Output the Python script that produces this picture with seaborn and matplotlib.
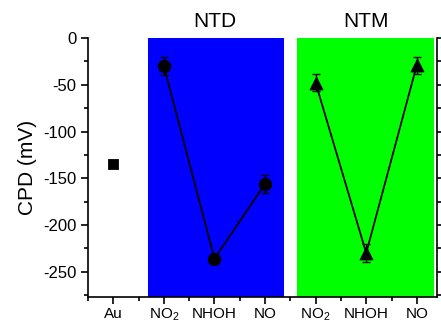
import numpy as np
import pandas as pd
import matplotlib
matplotlib.use("Agg")
import matplotlib.pyplot as plt
from matplotlib.patches import Rectangle
from matplotlib.ticker import MultipleLocator
import seaborn as sns

# ---- data ----
tick_labels = ["Au", "NO$_\\mathregular{2}$", "NHOH", "NO", "NO$_\\mathregular{2}$", "NHOH", "NO"]
au_value = [-135]
ntd_values = [-30, -236, -156]
ntd_errors = [10, 3, 10]
ntm_values = [-48, -230, -29]
ntm_errors = [9, 10, 9]
group_titles = ["NTD", "NTM"]

sns.set_style("white")
plt.rcParams["font.family"] = ["Liberation Sans", "DejaVu Sans"]
plt.rcParams["mathtext.fontset"] = "custom"
plt.rcParams["mathtext.rm"] = "Liberation Sans"
plt.rcParams["mathtext.it"] = "Liberation Sans"
plt.rcParams["axes.unicode_minus"] = False
plt.rcParams["text.color"] = "black"
plt.rcParams["axes.labelcolor"] = "black"
plt.rcParams["xtick.color"] = "black"
plt.rcParams["ytick.color"] = "black"

fig = plt.figure(figsize=(4.41, 3.22), dpi=100)
ax = fig.add_axes([0.1995, 0.0776, 0.7915, 0.8044])

pos = np.arange(1, len(tick_labels) + 1)
ax.set_xlim(0.5, 7.4)
ax.set_ylim(-277, 0)

# background bands
ax.add_patch(Rectangle((1.686, -277), 4.38 - 1.686, 277, facecolor="#0000FF", edgecolor="none", zorder=0))
ax.add_patch(Rectangle((4.64, -277), 7.34 - 4.64, 277, facecolor="#00FF00", edgecolor="none", zorder=0))

au_df = pd.DataFrame({"x": pos[:1], "y": au_value})
ntd_df = pd.DataFrame({"x": pos[1:4], "y": ntd_values})
ntm_df = pd.DataFrame({"x": pos[4:7], "y": ntm_values})

sns.lineplot(data=ntd_df, x="x", y="y", color="black", lw=1.3, ax=ax, zorder=2)
sns.lineplot(data=ntm_df, x="x", y="y", color="black", lw=1.3, ax=ax, zorder=2)
ax.errorbar(ntd_df["x"], ntd_df["y"], yerr=ntd_errors, fmt="none", ecolor="black",
            elinewidth=1, capsize=3, capthick=1, zorder=3)
ax.errorbar(ntm_df["x"], ntm_df["y"], yerr=ntm_errors, fmt="none", ecolor="black",
            elinewidth=1, capsize=3, capthick=1, zorder=3)
sns.scatterplot(data=au_df, x="x", y="y", marker="s", s=55, color="black", edgecolor="black", ax=ax, zorder=4)
sns.scatterplot(data=ntd_df, x="x", y="y", marker="o", s=80, color="black", edgecolor="black", ax=ax, zorder=4)
sns.scatterplot(data=ntm_df, x="x", y="y", marker="^", s=85, color="black", edgecolor="black", ax=ax, zorder=4)

ax.set_xticks(pos)
ax.set_xticklabels(tick_labels, fontsize=11)
ax.xaxis.set_minor_locator(MultipleLocator(0.5))
ax.yaxis.set_major_locator(MultipleLocator(50))
ax.yaxis.set_minor_locator(MultipleLocator(25))
ax.tick_params(axis="y", which="major", labelsize=12, direction="out", length=5, width=1.2, right=True, left=True)
ax.tick_params(axis="y", which="minor", direction="out", length=3, width=1.2, right=True, left=True)
ax.tick_params(axis="x", which="major", direction="out", length=5, width=1.2, bottom=True, pad=2)
ax.tick_params(axis="x", which="minor", direction="out", length=3, width=1.2, bottom=True)

for s in ["left", "bottom", "right"]:
    ax.spines[s].set_visible(True)
    ax.spines[s].set_color("black")
    ax.spines[s].set_linewidth(1.2)
ax.spines["top"].set_visible(False)

ax.set_xlabel("")
ax.set_ylabel("CPD (mV)", fontsize=15, labelpad=4)

ax.text(3, 8, group_titles[0], ha="center", va="bottom", fontsize=15)
ax.text(6, 8, group_titles[1], ha="center", va="bottom", fontsize=15)

fig.savefig("out.png", dpi=100)
